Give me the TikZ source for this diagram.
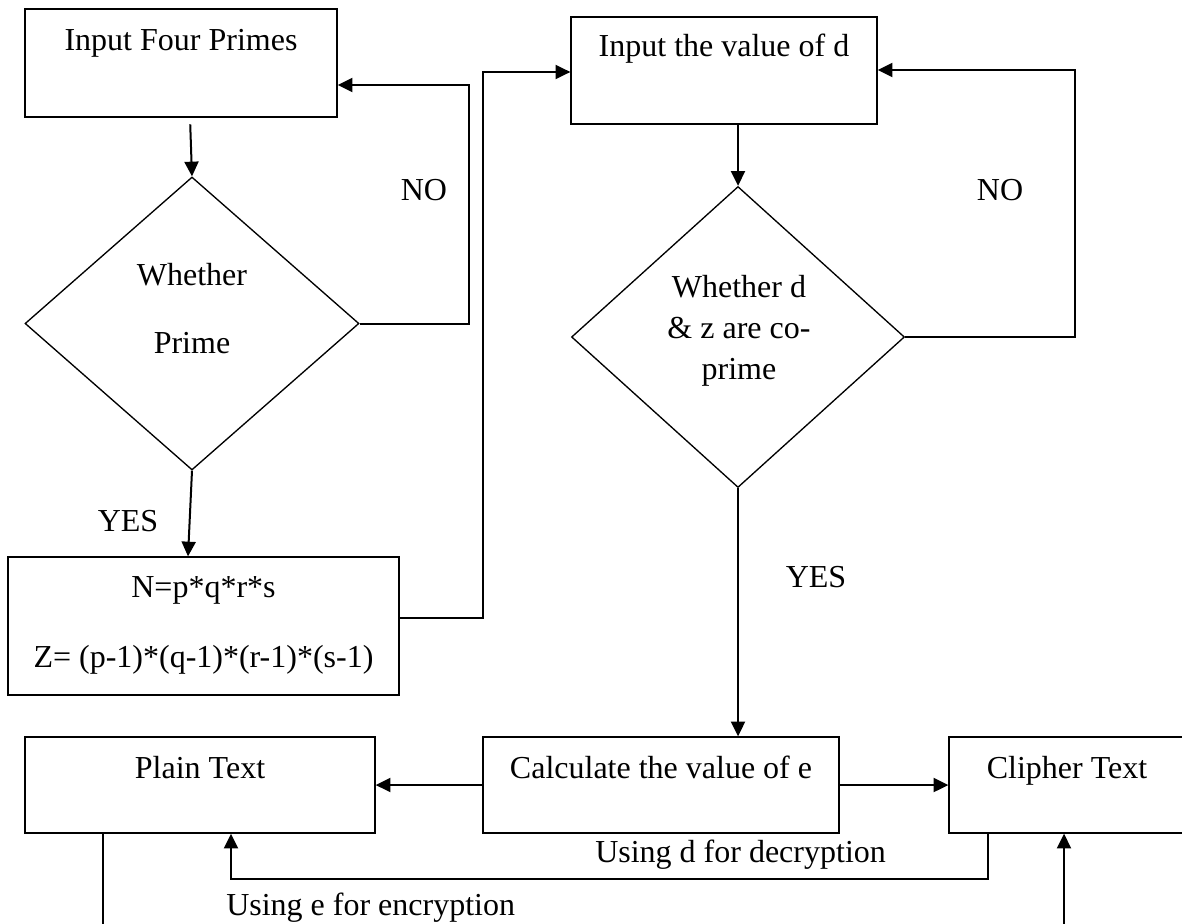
\documentclass[tikz,border=0pt]{standalone}
\usepackage{fontspec}
\setmainfont{Liberation Serif}
\usetikzlibrary{arrows.meta,shapes.geometric,calc}

\begin{document}
\begin{tikzpicture}[x=0.75pt,y=-0.75pt,
  box/.style={draw, line width=1pt, rectangle, inner sep=0pt},
  dec/.style={draw, line width=1pt, diamond, inner sep=0pt},
  txt/.style={anchor=base, inner sep=0pt, font=\fontsize{24}{28}\selectfont},
  ltxt/.style={anchor=base west, inner sep=0pt, font=\fontsize{24}{28}\selectfont},
  flow/.style={line width=1.5pt, -{Triangle[length=11pt,width=10.5pt]}},
]
\clip (0,0) rectangle (1182,924);

% process boxes
\node[box, minimum width=234pt,   minimum height=81pt]    (b1)    at (181,63)    {};
\node[box, minimum width=229.5pt, minimum height=80.25pt] (bd)    at (724,70.5)  {};
\node[box, minimum width=293.25pt,minimum height=103.5pt] (nbox)  at (203.5,626) {};
\node[box, minimum width=262.5pt, minimum height=72pt]    (plain) at (200,785)   {};
\node[box, minimum width=267pt,   minimum height=72pt]    (calc)  at (661,785)   {};
\node[box, minimum width=177pt,   minimum height=72pt]    (clip)  at (1067,785)  {};

% decisions
\node[dec, minimum width=250.5pt, minimum height=219.75pt] (d1) at (192,323.5) {};
\node[dec, minimum width=249.75pt,minimum height=225.75pt] (d2) at (738,337)   {};

% texts
\node[txt] (t1)  at (181,51)   {Input Four Primes};
\node[txt] (t2)  at (724,57)   {Input the value of d};
\node[txt] (t3a) at (192,285)  {Whether};
\node[txt] (t3b) at (192,353)  {Prime};
\node[txt] (t4a) at (739,297)  {Whether d};
\node[txt] (t4b) at (739,338)  {\& z are co-};
\node[txt] (t4c) at (739,379)  {prime};
\node[txt] (no1) at (424,200)  {NO};
\node[txt] (no2) at (1000,200) {NO};
\node[txt] (ys1) at (128,531)  {YES};
\node[txt] (ys2) at (816,587)  {YES};
\node[txt] (t5a) at (203.5,597) {N=p*q*r*s};
\node[txt] (t5b) at (203.5,667) {Z= (p-1)*(q-1)*(r-1)*(s-1)};
\node[txt] (t6)  at (200,778)  {Plain Text};
\node[txt] (t7)  at (661,778)  {Calculate the value of e};
\node[txt] (t8)  at (1067,778) {Clipher Text};
\node[ltxt] (ud) at (595,862)  {Using d for decryption};
\node[ltxt] (ue) at (226,915)  {Using e for encryption};

% loop and routing points
\coordinate (noL)  at (469,85);
\coordinate (toD)  at (483,72);
\coordinate (noR)  at (1075,70);
\coordinate (decR) at (988,879);
\coordinate (decL) at (231,879);
\coordinate (encL) at (103,950);
\coordinate (encR) at (1064,950);

% connectors
\draw[flow, shorten <=5pt] ($(d1.north |- b1.south)+(-2,0)$) -- (d1.north);
\draw[flow] (d1.east) -| (noL) -- (noL -| b1.east);
\draw[flow] (d1.south) -- ($(d1.south |- nbox.north)+(-4,0)$);
\draw[flow] ($(nbox.east)+(0,-8)$) -| (toD) -- (toD -| bd.west);
\draw[flow] (d2.north |- bd.south) -- (d2.north);
\draw[flow] (d2.east) -| (noR) -- (noR -| bd.east);
\draw[flow] (d2.south) -- (d2.south |- calc.north);
\draw[flow] (calc.west) -- (plain.east);
\draw[flow] (calc.east) -- (clip.west);
\draw[flow] (decR |- clip.south) -- (decR) -- (decL) -- (decL |- plain.south);
\draw[flow] (encL |- plain.south) -- (encL) -- (encR) -- (encR |- clip.south);
\end{tikzpicture}
\end{document}
